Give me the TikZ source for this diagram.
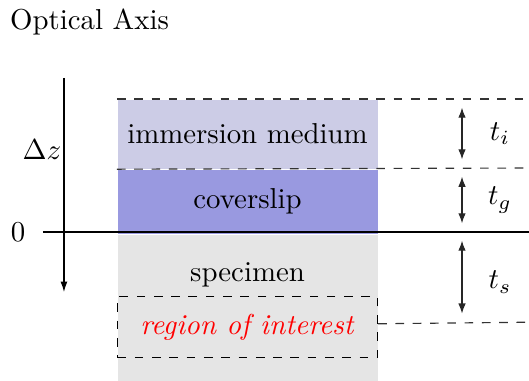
\documentclass[tikz,border=0pt]{standalone}
\usepackage{amsmath}
\usepackage{tikz}
\usetikzlibrary{arrows.meta,positioning,calc}
\definecolor{ImmersionLilac}{HTML}{CCCCE6}
\definecolor{CoverslipViolet}{HTML}{9999E0}
\definecolor{SpecimenGray}{HTML}{E5E5E5}

\begin{document}
\begin{tikzpicture}[
        layer/.style={rectangle,inner sep=0pt,minimum width=3.171cm,align=center,anchor=north west},
        guide/.style={dashed,draw=black!80},
        gap/.style={{Latex[length=3.5pt,width=2.6pt]}-{Latex[length=3.5pt,width=2.6pt]},draw=black!85,shorten >=3pt,shorten <=3pt},
        axis/.style={-{Latex[length=3.6pt,width=2.4pt]}}
      ]
        \useasboundingbox (-0.780,-1.817) rectangle (5.671,2.829);
        \node[anchor=west] (title) at (-0.78,2.56) {Optical Axis};
        % the three layers, stacked from the immersion medium down
        \node[layer,fill=ImmersionLilac,minimum height=0.842cm] (immersion) at (0.646,1.622) {immersion medium};
        \node[layer,fill=CoverslipViolet,minimum height=0.780cm] (coverslip) at (immersion.south west) {coverslip};
        \node[layer,fill=SpecimenGray,minimum height=1.780cm] (specimen) at (coverslip.south west) {};
        \node[below=0.22cm of specimen.north] (spectext) {specimen};
        \node[layer,draw,dashed,minimum height=0.744cm] (roi) at (0.646,-0.780) {\textcolor{red}{\textit{region of interest}}};
        % axis and reference line
        \coordinate (axtop) at (0,1.878);
        \coordinate (axbot) at (0,-0.732);
        \draw[axis] (axtop) -- (axbot);
        \node (dz) at (-0.268,1.0) {$\Delta z$};
        \coordinate (zleft) at (-0.256,0);
        \coordinate (zright) at (5.671,0);
        \node (zero) at (-0.56,0) {$0$};
        \draw (zleft) -- (zright);
        % dashed guides out to the thickness arrows
        \coordinate (gi) at (5.671,1.622);
        \coordinate (gg) at (5.671,0.780);
        \coordinate (gs) at (5.671,-1.100);
        \coordinate (roiguide) at ($(roi.east)+(0,0.04)$);
        \draw[guide] (immersion.north west) -- (gi);
        \draw[guide] (coverslip.north west) -- (gg);
        \draw[guide] (roiguide) -- (gs);
        \coordinate (ai) at (4.854,1.622);
        \coordinate (ag) at (4.854,0.780);
        \coordinate (as) at (4.854,0);
        \coordinate (ar) at (4.854,-1.100);
        \draw[gap] (ai) -- (ag);
        \draw[gap] (ag) -- (as);
        \draw[gap] (as) -- (ar);
        \node (ti) at (5.317,1.2) {$t_i$};
        \node (tg) at (5.317,0.39) {$t_g$};
        \node (ts) at (5.317,-0.61) {$t_s$};
      \end{tikzpicture}
\end{document}
